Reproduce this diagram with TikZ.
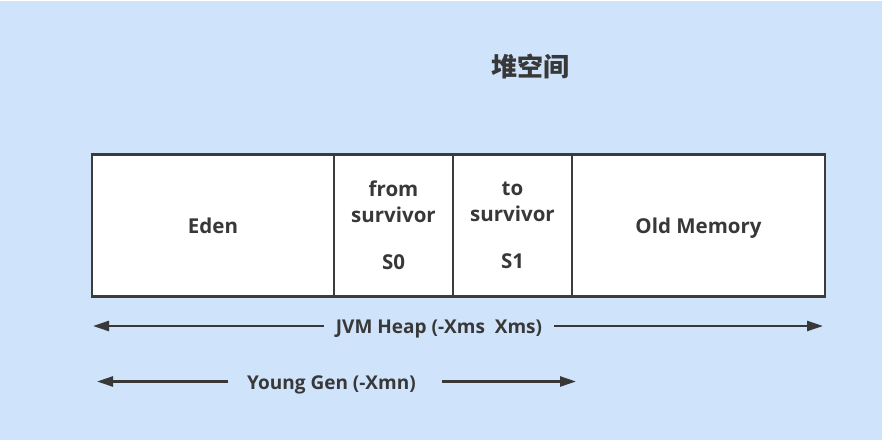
\documentclass[tikz,border=0pt]{standalone}
\usepackage{fontspec}
\setmainfont{Open Sans}
\newfontfamily\cjkfont{Noto Sans CJK SC}
\usetikzlibrary{arrows.meta}
\definecolor{bgblue}{RGB}{207,227,250}
\definecolor{ink}{RGB}{56,56,56}
\definecolor{edgecol}{RGB}{60,60,60}
\begin{document}
\begin{tikzpicture}[x=1pt,y=-1pt,
  region/.style={draw=edgecol, line width=2.6pt, fill=white, minimum height=142pt,
    inner sep=0pt, font=\fontsize{20.5}{25.5}\selectfont\bfseries, text=ink, align=center},
  arr/.style={draw=ink, line width=2.4pt, -{Triangle[length=16pt,width=10pt]}},
  lbl/.style={font=\fontsize{19}{23}\selectfont\bfseries, text=ink, inner sep=0pt, anchor=base},
  titlestyle/.style={font=\cjkfont\bfseries\fontsize{26}{30}\selectfont, text=ink, inner sep=0pt}]
\useasboundingbox (0,0) rectangle (884,440);
\fill[white] (0,0) rectangle (884,440);
\fill[bgblue] (0,1) rectangle (882,440);

\node[titlestyle] (title) at (530,66) {堆空间};

\node[region, minimum width=242pt] (eden) at (213,225.5) {Eden};
\node[region, minimum width=119pt] (s0) at (393.5,225.5) {from\\survivor\\[22pt]S0};
\node[region, minimum width=119pt] (s1) at (512.5,225.5) {to\\survivor\\[22pt]S1};
\node[region, minimum width=253pt, text depth=0pt] (old) at (698.5,225.5) {Old Memory};

% JVM heap arrow
\node[lbl] (jvm) at (439,333.5) {JVM Heap (-Xms\ \ Xms)};
\coordinate (jvmL) at (93,326);
\coordinate (jvmR) at (823,326);
\coordinate (jvmA) at (jvm.west |- jvmL);
\coordinate (jvmB) at (jvm.east |- jvmR);
\draw[arr] ([xshift=-12pt]jvmA) -- (jvmL);
\draw[arr] ([xshift=12pt]jvmB) -- (jvmR);

% Young gen arrow
\node[lbl] (young) at (331.5,389.3) {Young Gen (-Xmn)};
\coordinate (ygL) at (97,381.5);
\coordinate (ygR) at (576,381.5);
\coordinate (ygA) at (young.west |- ygL);
\coordinate (ygB) at (young.east |- ygR);
\draw[arr] ([xshift=-19pt]ygA) -- (ygL);
\draw[arr] ([xshift=26pt]ygB) -- (ygR);
\end{tikzpicture}
\end{document}
